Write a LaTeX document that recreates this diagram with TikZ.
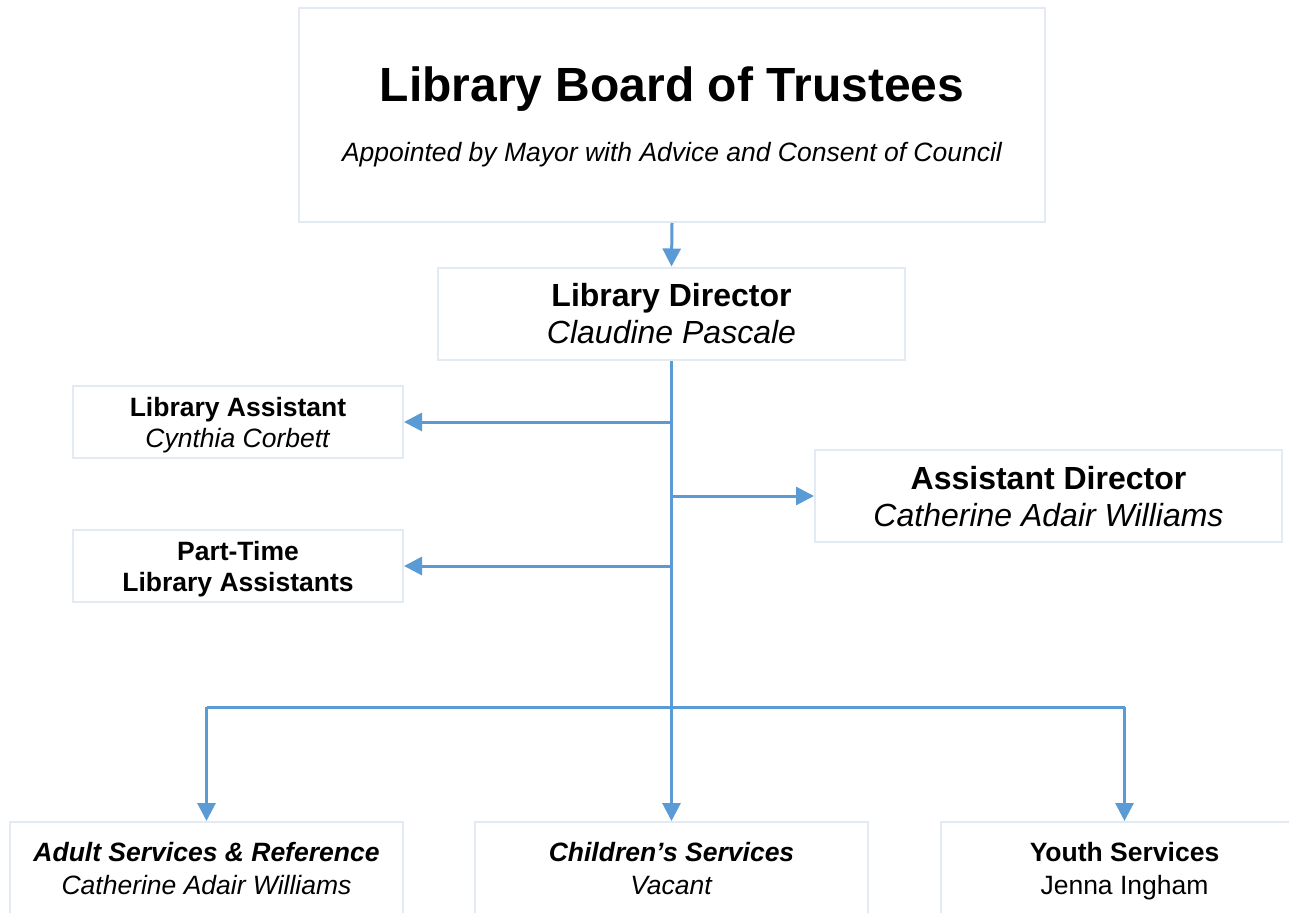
\documentclass[tikz,border=0pt]{standalone}
\usepackage{fontspec}
\setmainfont{Liberation Sans}
\usetikzlibrary{arrows.meta}
\definecolor{linkblue}{HTML}{5B9BD5}
\definecolor{boxline}{HTML}{E4EAF4}

\begin{document}
\begin{tikzpicture}[x=1pt,y=-1pt,
  orgbox/.style={draw=boxline,line width=2pt,inner sep=0pt,align=center,text depth=0pt},
  bigbox/.style={orgbox,minimum width=467pt,minimum height=92pt,font=\fontsize{32}{37}\selectfont},
  smallbox/.style={orgbox,minimum width=330pt,minimum height=72pt,font=\fontsize{26.5}{31}\selectfont},
  unitbox/.style={orgbox,minimum width=393pt,minimum height=92pt,font=\fontsize{26.5}{33}\selectfont},
  link/.style={draw=linkblue,line width=3pt},
  arrow/.style={link,-{Triangle[length=18pt,width=18pt]}}]

\useasboundingbox (0,0) rectangle (1289,912);
\clip (0,0) rectangle (1289,912);

\node[orgbox,minimum width=746pt,minimum height=214pt] (board) at (672,115) {};
\node[anchor=base,font=\fontsize{48}{58}\selectfont\bfseries] (boardtitle) at (672,102) {Library Board of Trustees};
\node[anchor=base,font=\fontsize{26.5}{32}\selectfont\itshape] (boardnote) at (672,161) {Appointed by Mayor with Advice and Consent of Council};

\node[bigbox] (director) at (671.5,313.5) {\textbf{Library Director}\\\textit{Claudine Pascale}};
\node[smallbox] (libasst) at (238,422) {\textbf{Library Assistant}\\\textit{Cynthia Corbett}};
\node[smallbox] (parttime) at (238,566) {\textbf{Part-Time}\\\textbf{Library Assistants}};
\node[bigbox] (asstdir) at (1048.5,496) {\textbf{Assistant Director}\\\textit{Catherine Adair Williams}};

\node[unitbox] (adult) at (206.5,868) {\textbf{\textit{Adult Services \& Reference}}\\\textit{Catherine Adair Williams}};
\node[unitbox] (children) at (671.5,868) {\textbf{\textit{Children’s Services}}\\\textit{Vacant}};
\node[unitbox,minimum width=367pt] (youth) at (1124.5,868) {\textbf{Youth Services}\\Jenna Ingham};

\coordinate (bus) at (671.5,707);

\draw[arrow] (board.south) -- (director.north);
\draw[link] (director.south) -- (bus);
\draw[arrow] (director.south |- libasst) -- (libasst.east);
\draw[arrow] (director.south |- asstdir) -- (asstdir.west);
\draw[arrow] (director.south |- parttime) -- (parttime.east);
\draw[link] (bus -| adult) -- (bus -| youth);
\draw[arrow] (bus -| adult) -- (adult.north);
\draw[arrow] (bus) -- (children.north);
\draw[arrow] (bus -| youth) -- (youth.north);
\end{tikzpicture}
\end{document}
